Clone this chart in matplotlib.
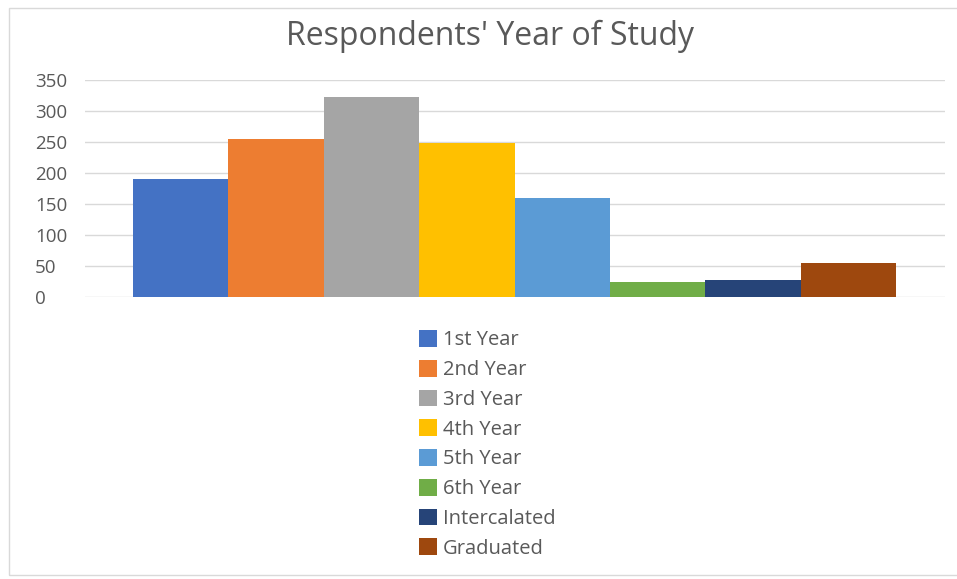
import matplotlib.pyplot as plt
from matplotlib.patches import Rectangle
import numpy as np

# data
categories = ["1st Year", "2nd Year", "3rd Year", "4th Year",
              "5th Year", "6th Year", "Intercalated", "Graduated"]
counts = [190, 255, 322, 248, 160, 24, 28, 55]
colors = ["#4472C4", "#ED7D31", "#A5A5A5", "#FFC000",
          "#5B9BD5", "#70AD47", "#264478", "#9E480E"]
yticks = [0, 50, 100, 150, 200, 250, 300, 350]

plt.rcParams['font.family'] = ['Open Sans', 'DejaVu Sans']
text_col = "#595959"

fig = plt.figure(figsize=(9.57, 5.79), dpi=100)
W, H = 957, 579

# chart frame
fig.patches.append(Rectangle((9 / W, 1 - 575 / H), 1.0, (575 - 8) / H,
                             transform=fig.transFigure, fill=False,
                             edgecolor="#d9d9d9", linewidth=1.0))

ax = fig.add_axes([85 / W, 1 - 297 / H, (945 - 85) / W, (297 - 80) / H])

n = len(counts)
width = 1.0 / n
x = np.arange(n) * width - 0.5 + width / 2
for xi, v, c, lab in zip(x, counts, colors, categories):
    ax.bar(xi, v, width=width, color=c, label=lab, zorder=3)

# group spans 133..896 px out of axis 85..945
ax.set_xlim(-0.5 - 48 / 763, 0.5 + 49 / 763)
ax.set_ylim(0, 350)
ax.set_yticks(yticks)
ax.set_yticklabels([str(t) for t in yticks], fontsize=13.5, color=text_col,
                   ha="left")
ax.set_xticks([])
ax.grid(axis="y", color="#d9d9d9", linewidth=1.0, zorder=0)
for s in ax.spines.values():
    s.set_visible(False)
ax.tick_params(axis="y", length=0, pad=36)

fig.text(490 / W, 1 - 36 / H, "Respondents' Year of Study",
         ha="center", va="center", fontsize=23, color=text_col)

handles, labels = ax.get_legend_handles_labels()
leg = fig.legend(handles, labels, loc="upper left",
                 bbox_to_anchor=(409 / W, 1 - 320 / H),
                 frameon=False, fontsize=14.5, handlelength=0.9,
                 handleheight=0.9, handletextpad=0.3,
                 labelspacing=0.47, borderpad=0)
for t in leg.get_texts():
    t.set_color(text_col)

fig.savefig("out.png", dpi=100)
